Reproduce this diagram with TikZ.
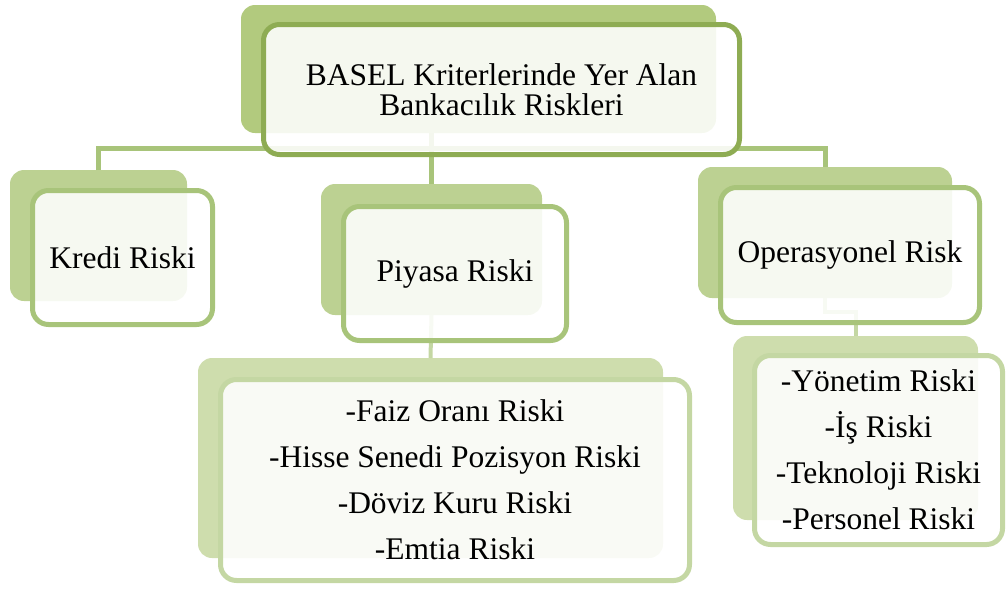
\documentclass[tikz,border=0pt]{standalone}
\usepackage{fontspec}
\setmainfont{Liberation Serif}
\definecolor{topback}{HTML}{B2CA7E}
\definecolor{topline}{HTML}{8EAC53}
\definecolor{midback}{HTML}{BCD192}
\definecolor{midline}{HTML}{A8C47A}
\definecolor{lowback}{HTML}{CEDDAD}
\definecolor{lowline}{HTML}{C4D7A3}

\begin{document}
\begin{tikzpicture}[x=1pt, y=-1pt,
    every node/.style = {align=center, inner sep=0pt, outer sep=0pt,
        font=\fontsize{31.5}{30}\selectfont},
    backbox/.style = {rounded corners=14pt},
    frontbox/.style = {draw=#1, line width=5pt, rounded corners=16pt,
        fill=white, fill opacity=0.88, text=black, text opacity=1},
    listbox/.style = {frontbox=#1, font=\fontsize{31.5}{46}\selectfont},
    link/.style = {line width=5pt}]
    \useasboundingbox (0,0) rectangle (1006,590);

    \node[backbox, fill=topback, minimum width=475pt, minimum height=128pt] (tback) at (478.5,69) {};
    \node[backbox, fill=midback, minimum width=177pt, minimum height=131pt] (kback) at (98.5,235.5) {};
    \node[backbox, fill=midback, minimum width=221pt, minimum height=131pt] (pback) at (431.5,249.5) {};
    \node[backbox, fill=midback, minimum width=254pt, minimum height=131pt] (oback) at (825,232.5) {};
    \node[backbox, fill=lowback, minimum width=465pt, minimum height=200pt] (psback) at (430.5,458) {};
    \node[backbox, fill=lowback, minimum width=245pt, minimum height=184pt] (osback) at (855.5,428) {};

    \draw[link, midline] (kback.north) -- ++(0,-22) -| (oback.north);
    \draw[link, midline] (tback.south -| pback.north) -- (pback.north);
    \draw[link, lowline, line width=4pt] (pback.south) -- (psback.north);
    \draw[link, lowline, line width=4pt] (oback.south) -- ++(0,14) -| (osback.north);

    \node[frontbox=topline, minimum width=476pt, minimum height=130pt] (top) at (501.5,89.5)
        {BASEL Kriterlerinde Yer Alan\\Bankacılık Riskleri};
    \node[frontbox=midline, minimum width=180pt, minimum height=134pt] (kredi) at (122.5,257.5)
        {Kredi Riski};
    \node[frontbox=midline, minimum width=223pt, minimum height=134pt] (piyasa) at (455,273.5)
        {Piyasa Riski};
    \node[frontbox=midline, minimum width=259pt, minimum height=135pt] (oper) at (850,255)
        {Operasyonel Risk};
    \node[listbox=lowline, minimum width=469pt, minimum height=201pt] (piyasalist) at (455,480)
        {-Faiz Oranı Riski\\-Hisse Senedi Pozisyon Riski\\-Döviz Kuru Riski\\-Emtia Riski};
    \node[listbox=lowline, minimum width=248pt, minimum height=189pt] (operlist) at (878.5,450)
        {-Yönetim Riski\\-İş Riski\\-Teknoloji Riski\\-Personel Riski};
\end{tikzpicture}
\end{document}
